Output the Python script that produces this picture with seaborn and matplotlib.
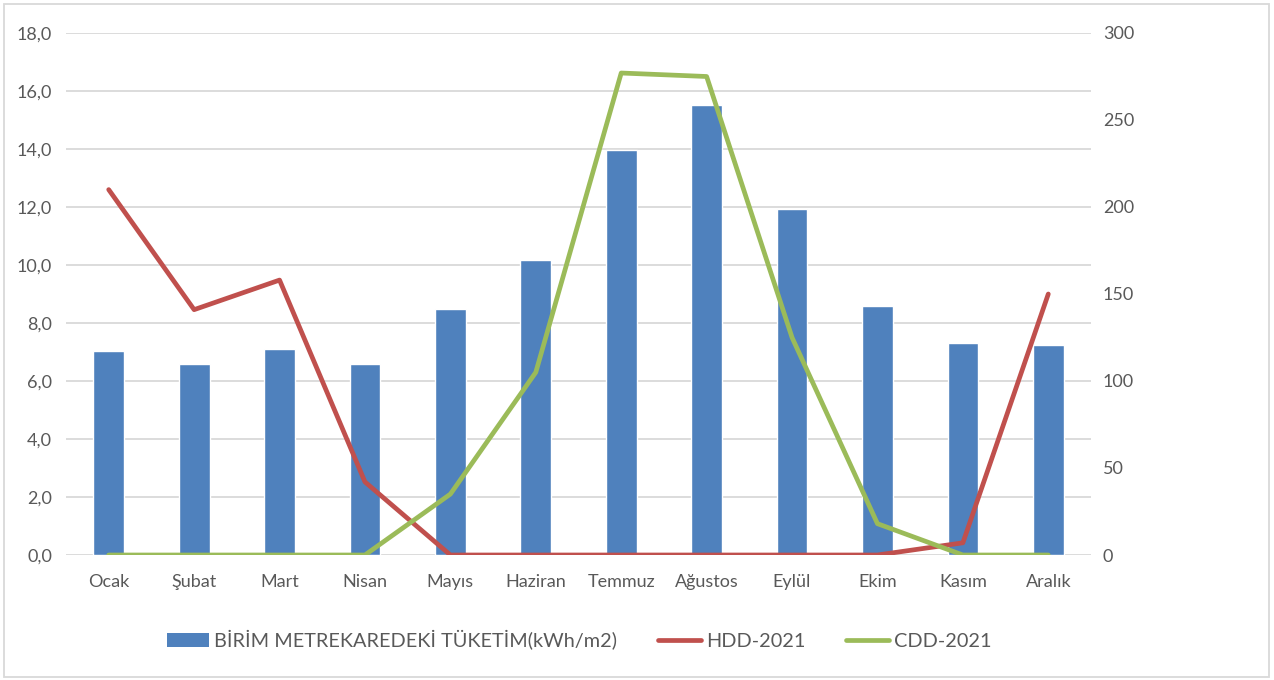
import matplotlib
matplotlib.use("Agg")
import matplotlib.pyplot as plt
import matplotlib.patches as mpatches
import matplotlib.lines as mlines
from matplotlib.ticker import FuncFormatter, MultipleLocator
import numpy as np
import pandas as pd
import seaborn as sns

months = ["Ocak", "Şubat", "Mart", "Nisan", "Mayıs", "Haziran",
          "Temmuz", "Ağustos", "Eylül", "Ekim", "Kasım", "Aralık"]
consumption = [7.03, 6.59, 7.10, 6.59, 8.48, 10.18, 13.98, 15.52, 11.94, 8.60, 7.31, 7.24]
hdd_2021 = [210, 141, 158, 42, 0, 0, 0, 0, 0, 0, 7, 150]
cdd_2021 = [0, 0, 0, 0, 35, 105, 277, 275, 125, 18, 0, 0]

bar_label = "BİRİM METREKAREDEKİ TÜKETİM(kWh/m2)"
hdd_label = "HDD-2021"
cdd_label = "CDD-2021"

BLUE = "#4F81BD"
RED = "#C0504D"
GREEN = "#9BBB59"
GRID = "#D9D9D9"
TEXT = "#595959"

sns.set_theme(style="white")
plt.rcParams["font.family"] = ["Lato", "DejaVu Sans"]

df = pd.DataFrame({"Ay": months, "Tuketim": consumption,
                   "HDD": hdd_2021, "CDD": cdd_2021, "pos": np.arange(len(months))})

W, H = 1274, 680
fig = plt.figure(figsize=(W / 100, H / 100), dpi=100)
ax = fig.add_axes([66 / W, (H - 555) / H, (1091 - 66) / W, (555 - 33) / H])

sns.barplot(data=df, x="Ay", y="Tuketim", color=BLUE, saturation=1,
            width=0.36, ax=ax, zorder=2)
ax.set_xlim(-0.5, len(months) - 0.5)
ax.set_ylim(0, 18)
ax.yaxis.set_major_locator(MultipleLocator(2))
ax.yaxis.set_major_formatter(FuncFormatter(lambda v, _: f"{v:.1f}".replace(".", ",")))
ax.grid(axis="y", color=GRID, linewidth=1.3, zorder=0)
ax.set_axisbelow(True)
ax.set_xlabel("")
ax.set_ylabel("")

ax2 = ax.twinx()
sns.lineplot(data=df, x="pos", y="HDD", color=RED, linewidth=3.4, ax=ax2,
             solid_capstyle="round", solid_joinstyle="round")
sns.lineplot(data=df, x="pos", y="CDD", color=GREEN, linewidth=3.4, ax=ax2,
             solid_capstyle="round", solid_joinstyle="round")
ax2.set_ylim(0, 300)
ax2.yaxis.set_major_locator(MultipleLocator(50))
ax2.set_xlim(-0.5, len(months) - 0.5)
ax2.set_xlabel("")
ax2.set_ylabel("")
ax2.grid(False)

for a in (ax, ax2):
    for s in a.spines.values():
        s.set_visible(False)
    a.tick_params(axis="both", length=0, labelsize=13, labelcolor=TEXT)
ax.tick_params(axis="y", pad=10)
ax2.tick_params(axis="y", pad=8.6)
ax.tick_params(axis="x", pad=14)

handles = [
    mpatches.Patch(facecolor=BLUE, edgecolor="none", label=bar_label),
    mlines.Line2D([], [], color=RED, linewidth=3.4, solid_capstyle="round", label=hdd_label),
    mlines.Line2D([], [], color=GREEN, linewidth=3.4, solid_capstyle="round", label=cdd_label),
]
fig.legend(handles=handles, loc="center", bbox_to_anchor=(579 / W, 1 - 640 / H),
           ncol=3, frameon=False, fontsize=14.3, labelcolor=TEXT,
           handlelength=2.15, handleheight=0.72, handletextpad=0.26,
           columnspacing=2.05)

fig.patches.append(mpatches.Rectangle((4 / W, 3 / H), 1 - 9 / W, 1 - 7 / H,
                                      transform=fig.transFigure, fill=False,
                                      edgecolor=GRID, linewidth=1.3))

fig.savefig("out.png", dpi=100)
